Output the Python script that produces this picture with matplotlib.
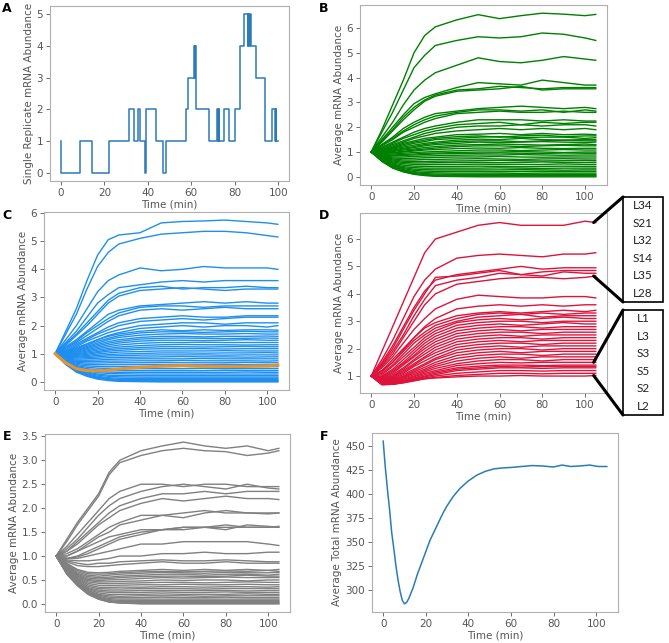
import matplotlib.pyplot as plt
from matplotlib.patches import Rectangle, ConnectionPatch
from matplotlib.ticker import MultipleLocator

# ---- data ----
# panel A: single replicate, step trace (start time, copies)
a_time = [0, 0.2, 8.8, 14.5, 22, 31.4, 33.8, 35.6, 36.4, 38.9, 39.1, 39.4, 43.7, 47.1,
          48.3, 57.7, 58.5, 61.2, 61.6, 61.9, 62.3, 68.0, 72.0, 72.3, 72.6, 72.9, 75.2,
          77.4, 80.3, 82.6, 84.5, 86.0, 86.3, 86.7, 87.0, 87.4, 90.0, 93.8, 97.2, 98.6,
          98.8, 99.2, 100]
a_count = [1, 0, 1, 0, 1, 2, 1, 2, 1, 0, 1, 2, 1, 0,
           1, 2, 3, 4, 3, 4, 2, 1, 2, 1, 2, 1, 2,
           1, 2, 4, 5, 4, 5, 4, 5, 4, 3, 1, 2, 1,
           2, 1, 1]

# common sampling times for the averaged traces (min)
T = [0, 5, 10, 15, 20, 25, 30, 40, 50, 60, 70, 80, 90, 100, 105]

# panel B: green, averaged traces
b_lines = [
    [1, 1.9, 2.9, 3.9, 5.0, 5.7, 6.05, 6.33, 6.54, 6.38, 6.5, 6.6, 6.56, 6.5, 6.55],
    [1, 1.8, 2.6, 3.5, 4.4, 4.9, 5.3, 5.5, 5.65, 5.6, 5.65, 5.8, 5.75, 5.6, 5.5],
    [1, 1.6, 2.2, 2.9, 3.5, 3.9, 4.2, 4.5, 4.8, 4.65, 4.6, 4.7, 4.85, 4.75, 4.7],
    [1, 1.5, 2.0, 2.5, 2.95, 3.2, 3.35, 3.6, 3.8, 3.75, 3.7, 3.9, 3.8, 3.7, 3.7],
    [1, 1.45, 1.9, 2.4, 2.8, 3.1, 3.3, 3.5, 3.55, 3.65, 3.6, 3.55, 3.6, 3.6, 3.6],
    [1, 1.4, 1.85, 2.3, 2.7, 3.05, 3.25, 3.45, 3.5, 3.55, 3.65, 3.5, 3.55, 3.55, 3.55],
    [1, 1.3, 1.6, 1.95, 2.2, 2.4, 2.55, 2.65, 2.75, 2.8, 2.85, 2.8, 2.75, 2.8, 2.75],
    [1, 1.3, 1.55, 1.85, 2.1, 2.3, 2.45, 2.6, 2.7, 2.7, 2.65, 2.7, 2.6, 2.7, 2.65],
    [1, 1.25, 1.5, 1.8, 2.0, 2.2, 2.35, 2.55, 2.6, 2.65, 2.6, 2.6, 2.65, 2.6, 2.6],
    [1, 1.2, 1.4, 1.6, 1.8, 1.95, 2.05, 2.2, 2.3, 2.3, 2.3, 2.25, 2.3, 2.25, 2.25],
    [1, 1.15, 1.35, 1.55, 1.7, 1.85, 1.95, 2.1, 2.15, 2.2, 2.1, 2.2, 2.15, 2.2, 2.2],
    [1, 1.15, 1.3, 1.45, 1.6, 1.75, 1.85, 2.0, 2.05, 2.05, 2.1, 2.05, 2.1, 2.1, 2.05],
    [1, 1.1, 1.25, 1.4, 1.55, 1.65, 1.75, 1.85, 1.9, 1.95, 1.9, 1.95, 1.9, 1.95, 1.9],
    [1, 1.1, 1.2, 1.35, 1.45, 1.55, 1.6, 1.7, 1.72, 1.75, 1.7, 1.75, 1.7, 1.72, 1.7],
    [1, 1.08, 1.18, 1.3, 1.4, 1.48, 1.55, 1.62, 1.65, 1.6, 1.65, 1.68, 1.62, 1.65, 1.65],
    [1, 1.05, 1.15, 1.25, 1.35, 1.42, 1.5, 1.55, 1.6, 1.62, 1.58, 1.6, 1.6, 1.55, 1.58],
    [1, 1.05, 1.12, 1.2, 1.28, 1.35, 1.4, 1.48, 1.52, 1.5, 1.55, 1.5, 1.48, 1.5, 1.5],
    [1, 1.02, 1.08, 1.15, 1.22, 1.3, 1.35, 1.42, 1.45, 1.45, 1.42, 1.45, 1.48, 1.45, 1.45],
    [1, 1.0, 1.05, 1.12, 1.18, 1.25, 1.3, 1.35, 1.4, 1.38, 1.4, 1.42, 1.4, 1.38, 1.4],
    [1, 0.98, 1.02, 1.08, 1.12, 1.18, 1.22, 1.28, 1.3, 1.32, 1.3, 1.28, 1.3, 1.32, 1.3],
    [1, 0.96, 0.98, 1.03, 1.08, 1.12, 1.16, 1.22, 1.25, 1.25, 1.22, 1.25, 1.27, 1.25, 1.25],
    [1, 0.95, 0.96, 1.0, 1.04, 1.08, 1.1, 1.14, 1.16, 1.15, 1.18, 1.15, 1.14, 1.15, 1.15],
    [1, 0.93, 0.92, 0.95, 0.98, 1.0, 1.02, 1.05, 1.08, 1.08, 1.06, 1.08, 1.1, 1.08, 1.08],
    [1, 0.9, 0.88, 0.9, 0.92, 0.95, 0.96, 0.98, 1.0, 1.0, 1.02, 1.0, 0.98, 1.0, 1.0],
    [1, 0.88, 0.85, 0.86, 0.88, 0.9, 0.92, 0.94, 0.95, 0.96, 0.95, 0.94, 0.96, 0.95, 0.95],
    [1, 0.86, 0.8, 0.8, 0.82, 0.84, 0.85, 0.87, 0.88, 0.88, 0.9, 0.88, 0.87, 0.88, 0.88],
    [1, 0.84, 0.76, 0.74, 0.75, 0.77, 0.78, 0.8, 0.8, 0.82, 0.8, 0.79, 0.8, 0.8, 0.8],
    [1, 0.82, 0.72, 0.68, 0.68, 0.7, 0.7, 0.72, 0.73, 0.72, 0.7, 0.72, 0.73, 0.72, 0.72],
    [1, 0.8, 0.68, 0.63, 0.62, 0.62, 0.63, 0.64, 0.65, 0.66, 0.65, 0.64, 0.65, 0.66, 0.65],
    [1, 0.78, 0.64, 0.58, 0.56, 0.56, 0.57, 0.58, 0.58, 0.57, 0.58, 0.6, 0.58, 0.58, 0.58],
    [1, 0.76, 0.6, 0.53, 0.5, 0.49, 0.5, 0.5, 0.51, 0.5, 0.5, 0.5, 0.52, 0.5, 0.5],
    [1, 0.74, 0.56, 0.47, 0.43, 0.42, 0.42, 0.42, 0.43, 0.42, 0.41, 0.42, 0.43, 0.42, 0.42],
    [1, 0.72, 0.52, 0.41, 0.37, 0.35, 0.35, 0.35, 0.35, 0.36, 0.35, 0.34, 0.35, 0.35, 0.35],
    [1, 0.7, 0.49, 0.37, 0.31, 0.29, 0.28, 0.28, 0.28, 0.28, 0.29, 0.28, 0.27, 0.28, 0.28],
    [1, 0.68, 0.46, 0.33, 0.26, 0.23, 0.22, 0.22, 0.22, 0.21, 0.22, 0.22, 0.22, 0.22, 0.22],
    [1, 0.67, 0.43, 0.29, 0.21, 0.17, 0.16, 0.15, 0.15, 0.15, 0.14, 0.15, 0.15, 0.15, 0.15],
    [1, 0.66, 0.41, 0.26, 0.17, 0.13, 0.11, 0.1, 0.1, 0.1, 0.1, 0.1, 0.1, 0.1, 0.1],
    [1, 0.65, 0.39, 0.23, 0.14, 0.09, 0.07, 0.06, 0.06, 0.06, 0.06, 0.06, 0.06, 0.06, 0.06],
    [1, 0.64, 0.37, 0.21, 0.12, 0.07, 0.04, 0.03, 0.03, 0.03, 0.03, 0.03, 0.03, 0.03, 0.03],
    [1, 0.62, 0.35, 0.2, 0.1, 0.05, 0.02, 0.01, 0, 0, 0, 0, 0, 0, 0],
]

# panel C: blue traces plus the orange mean
c_lines = [
    [1, 1.8, 2.6, 3.6, 4.5, 5.05, 5.22, 5.3, 5.65, 5.7, 5.72, 5.75, 5.7, 5.65, 5.6],
    [1, 1.7, 2.4, 3.3, 4.1, 4.6, 4.9, 5.1, 5.25, 5.3, 5.35, 5.35, 5.3, 5.2, 5.15],
    [1, 1.5, 2.0, 2.6, 3.2, 3.6, 3.8, 4.05, 3.95, 4.0, 4.1, 4.05, 4.05, 4.05, 4.0],
    [1, 1.4, 1.8, 2.3, 2.8, 3.1, 3.35, 3.45, 3.55, 3.6, 3.55, 3.6, 3.6, 3.6, 3.6],
    [1, 1.35, 1.7, 2.1, 2.5, 2.9, 3.15, 3.35, 3.4, 3.3, 3.35, 3.35, 3.4, 3.35, 3.35],
    [1, 1.3, 1.65, 2.0, 2.4, 2.8, 3.05, 3.25, 3.3, 3.35, 3.3, 3.25, 3.3, 3.3, 3.3],
    [1, 1.25, 1.5, 1.8, 2.1, 2.4, 2.55, 2.7, 2.75, 2.8, 2.85, 2.8, 2.85, 2.8, 2.8],
    [1, 1.2, 1.45, 1.75, 2.0, 2.25, 2.45, 2.65, 2.7, 2.7, 2.65, 2.7, 2.7, 2.7, 2.7],
    [1, 1.2, 1.4, 1.65, 1.9, 2.15, 2.35, 2.55, 2.6, 2.55, 2.6, 2.65, 2.6, 2.6, 2.6],
    [1, 1.15, 1.35, 1.55, 1.75, 1.95, 2.1, 2.25, 2.3, 2.35, 2.3, 2.3, 2.35, 2.35, 2.35],
    [1, 1.1, 1.3, 1.5, 1.7, 1.85, 2.0, 2.15, 2.2, 2.25, 2.2, 2.25, 2.3, 2.3, 2.3],
    [1, 1.1, 1.25, 1.45, 1.6, 1.75, 1.85, 2.0, 2.05, 2.1, 2.1, 2.05, 2.1, 2.1, 2.1],
    [1, 1.1, 1.2, 1.35, 1.5, 1.65, 1.75, 1.9, 1.95, 2.0, 1.95, 2.0, 2.0, 1.95, 2.0],
    [1, 1.08, 1.2, 1.35, 1.5, 1.62, 1.7, 1.8, 1.85, 1.82, 1.85, 1.83, 1.85, 1.85, 1.84],
    [1, 1.06, 1.17, 1.3, 1.44, 1.55, 1.64, 1.74, 1.78, 1.78, 1.76, 1.78, 1.8, 1.78, 1.78],
    [1, 1.05, 1.14, 1.26, 1.38, 1.5, 1.58, 1.66, 1.7, 1.72, 1.7, 1.7, 1.72, 1.7, 1.7],
    [1, 1.03, 1.11, 1.22, 1.33, 1.43, 1.5, 1.58, 1.62, 1.62, 1.6, 1.62, 1.62, 1.63, 1.62],
    [1, 1.02, 1.08, 1.18, 1.28, 1.37, 1.44, 1.52, 1.55, 1.56, 1.55, 1.54, 1.55, 1.56, 1.55],
    [1, 1.0, 1.05, 1.14, 1.23, 1.31, 1.38, 1.45, 1.48, 1.48, 1.47, 1.48, 1.5, 1.48, 1.48],
    [1, 0.98, 1.02, 1.1, 1.18, 1.25, 1.31, 1.37, 1.4, 1.4, 1.41, 1.4, 1.4, 1.4, 1.4],
    [1, 0.96, 0.99, 1.06, 1.13, 1.19, 1.24, 1.29, 1.32, 1.33, 1.32, 1.32, 1.31, 1.32, 1.32],
    [1, 0.95, 0.97, 1.02, 1.08, 1.14, 1.18, 1.22, 1.25, 1.25, 1.24, 1.25, 1.26, 1.25, 1.25],
    [1, 0.93, 0.94, 0.98, 1.04, 1.09, 1.12, 1.16, 1.18, 1.18, 1.18, 1.17, 1.18, 1.18, 1.18],
    [1, 0.91, 0.91, 0.94, 0.99, 1.03, 1.06, 1.08, 1.1, 1.1, 1.1, 1.11, 1.1, 1.1, 1.1],
    [1, 0.89, 0.88, 0.9, 0.94, 0.97, 0.99, 1.01, 1.03, 1.03, 1.02, 1.03, 1.03, 1.04, 1.03],
    [1, 0.87, 0.85, 0.86, 0.89, 0.92, 0.93, 0.95, 0.96, 0.96, 0.96, 0.95, 0.96, 0.96, 0.96],
    [1, 0.85, 0.81, 0.82, 0.84, 0.86, 0.87, 0.88, 0.89, 0.9, 0.89, 0.89, 0.88, 0.89, 0.89],
    [1, 0.83, 0.77, 0.77, 0.78, 0.8, 0.81, 0.82, 0.82, 0.82, 0.83, 0.82, 0.82, 0.82, 0.82],
    [1, 0.81, 0.73, 0.72, 0.73, 0.74, 0.74, 0.75, 0.75, 0.76, 0.75, 0.75, 0.75, 0.74, 0.75],
    [1, 0.79, 0.7, 0.67, 0.67, 0.68, 0.68, 0.68, 0.69, 0.68, 0.68, 0.68, 0.69, 0.68, 0.68],
    [1, 0.77, 0.66, 0.62, 0.61, 0.61, 0.61, 0.61, 0.62, 0.61, 0.61, 0.62, 0.61, 0.61, 0.61],
    [1, 0.75, 0.62, 0.57, 0.55, 0.54, 0.54, 0.54, 0.54, 0.55, 0.54, 0.54, 0.54, 0.54, 0.54],
    [1, 0.73, 0.58, 0.52, 0.49, 0.48, 0.47, 0.47, 0.47, 0.47, 0.48, 0.47, 0.47, 0.47, 0.47],
    [1, 0.71, 0.55, 0.47, 0.43, 0.41, 0.4, 0.4, 0.4, 0.4, 0.4, 0.41, 0.4, 0.4, 0.4],
    [1, 0.7, 0.52, 0.43, 0.38, 0.35, 0.34, 0.34, 0.34, 0.34, 0.34, 0.34, 0.35, 0.34, 0.34],
    [1, 0.69, 0.49, 0.39, 0.33, 0.3, 0.29, 0.28, 0.28, 0.28, 0.28, 0.28, 0.28, 0.28, 0.28],
    [1, 0.68, 0.47, 0.35, 0.28, 0.24, 0.23, 0.22, 0.22, 0.22, 0.22, 0.22, 0.22, 0.22, 0.22],
    [1, 0.67, 0.45, 0.32, 0.24, 0.2, 0.18, 0.17, 0.17, 0.17, 0.17, 0.17, 0.17, 0.17, 0.17],
    [1, 0.66, 0.43, 0.29, 0.2, 0.15, 0.13, 0.12, 0.12, 0.12, 0.12, 0.12, 0.12, 0.12, 0.12],
    [1, 0.65, 0.41, 0.26, 0.17, 0.12, 0.09, 0.08, 0.08, 0.08, 0.08, 0.08, 0.08, 0.08, 0.08],
    [1, 0.64, 0.39, 0.24, 0.14, 0.09, 0.06, 0.05, 0.05, 0.05, 0.05, 0.05, 0.05, 0.05, 0.05],
    [1, 0.63, 0.37, 0.22, 0.12, 0.07, 0.04, 0.02, 0.02, 0.02, 0.02, 0.02, 0.02, 0.02, 0.02],
    [1, 0.62, 0.35, 0.2, 0.1, 0.05, 0.02, 0.01, 0, 0, 0, 0, 0, 0, 0],
]
c_mean = [1, 0.68, 0.47, 0.40, 0.39, 0.42, 0.46, 0.52, 0.56, 0.58, 0.56, 0.55, 0.55, 0.57, 0.6]

# panel D: red traces
d_lines = [
    [1, 1.9, 2.8, 3.7, 4.6, 5.5, 6.0, 6.25, 6.5, 6.6, 6.5, 6.5, 6.5, 6.65, 6.6],
    [1, 1.6, 2.3, 3.1, 3.9, 4.5, 4.9, 5.3, 5.4, 5.45, 5.4, 5.35, 5.45, 5.45, 5.5],
    [1, 1.5, 2.1, 2.8, 3.5, 4.1, 4.5, 4.7, 4.8, 4.9, 5.0, 4.9, 4.95, 4.95, 4.95],
    [1, 1.45, 2.0, 2.7, 3.4, 4.0, 4.6, 4.65, 4.75, 4.85, 4.7, 4.8, 4.85, 4.85, 4.85],
    [1, 1.4, 1.9, 2.5, 3.2, 3.8, 4.3, 4.5, 4.6, 4.75, 4.7, 4.65, 4.8, 4.75, 4.75],
    [1, 1.35, 1.8, 2.4, 3.0, 3.6, 4.0, 4.35, 4.45, 4.55, 4.6, 4.6, 4.55, 4.6, 4.65],
    [1, 1.3, 1.7, 2.2, 2.7, 3.1, 3.45, 3.8, 3.95, 3.9, 3.85, 3.85, 3.9, 3.9, 3.85],
    [1, 1.2, 1.5, 1.95, 2.4, 2.8, 3.1, 3.45, 3.55, 3.6, 3.55, 3.6, 3.55, 3.6, 3.6],
    [1, 1.2, 1.6, 2.0, 2.4, 2.75, 2.95, 3.2, 3.3, 3.35, 3.3, 3.35, 3.4, 3.35, 3.4],
    [1, 1.15, 1.5, 1.9, 2.3, 2.6, 2.85, 3.1, 3.25, 3.3, 3.25, 3.3, 3.25, 3.3, 3.3],
    [1, 1.1, 1.4, 1.8, 2.2, 2.5, 2.75, 3.0, 3.15, 3.2, 3.25, 3.15, 3.2, 3.2, 3.2],
    [1, 1.05, 1.35, 1.7, 2.05, 2.4, 2.65, 2.95, 3.05, 3.1, 3.05, 3.1, 3.15, 3.1, 3.1],
    [1, 1.0, 1.25, 1.6, 1.95, 2.3, 2.55, 2.85, 2.95, 3.0, 3.0, 2.95, 3.0, 3.0, 3.0],
    [1, 0.98, 1.2, 1.5, 1.85, 2.2, 2.45, 2.75, 2.85, 2.9, 2.85, 2.9, 2.95, 2.9, 2.9],
    [1, 0.95, 1.15, 1.45, 1.75, 2.1, 2.35, 2.65, 2.75, 2.8, 2.8, 2.75, 2.8, 2.8, 2.8],
    [1, 0.93, 1.1, 1.4, 1.7, 2.0, 2.25, 2.55, 2.65, 2.7, 2.65, 2.7, 2.7, 2.7, 2.7],
    [1, 0.9, 1.05, 1.3, 1.6, 1.9, 2.15, 2.45, 2.55, 2.6, 2.6, 2.55, 2.6, 2.6, 2.6],
    [1, 0.9, 1.0, 1.25, 1.55, 1.8, 2.05, 2.35, 2.45, 2.5, 2.45, 2.5, 2.5, 2.5, 2.5],
    [1, 0.88, 0.98, 1.2, 1.45, 1.7, 1.95, 2.25, 2.35, 2.4, 2.4, 2.35, 2.4, 2.4, 2.4],
    [1, 0.86, 0.95, 1.15, 1.4, 1.65, 1.85, 2.15, 2.25, 2.3, 2.25, 2.3, 2.3, 2.3, 2.3],
    [1, 0.85, 0.92, 1.1, 1.35, 1.55, 1.75, 2.05, 2.15, 2.2, 2.2, 2.15, 2.2, 2.2, 2.2],
    [1, 0.83, 0.9, 1.05, 1.25, 1.45, 1.65, 1.95, 2.05, 2.1, 2.05, 2.1, 2.1, 2.1, 2.1],
    [1, 0.82, 0.88, 1.0, 1.2, 1.4, 1.6, 1.85, 1.95, 2.0, 2.0, 1.95, 2.0, 2.0, 2.0],
    [1, 0.8, 0.85, 0.97, 1.15, 1.32, 1.5, 1.75, 1.85, 1.9, 1.85, 1.9, 1.9, 1.9, 1.9],
    [1, 0.78, 0.83, 0.95, 1.1, 1.25, 1.42, 1.65, 1.75, 1.8, 1.8, 1.75, 1.8, 1.8, 1.8],
    [1, 0.77, 0.8, 0.92, 1.05, 1.2, 1.35, 1.55, 1.65, 1.7, 1.65, 1.7, 1.7, 1.7, 1.7],
    [1, 0.75, 0.78, 0.88, 1.0, 1.15, 1.28, 1.45, 1.55, 1.6, 1.6, 1.55, 1.6, 1.6, 1.6],
    [1, 0.74, 0.76, 0.85, 0.97, 1.1, 1.2, 1.38, 1.45, 1.5, 1.48, 1.5, 1.5, 1.5, 1.5],
    [1, 0.73, 0.74, 0.82, 0.93, 1.05, 1.15, 1.3, 1.36, 1.4, 1.4, 1.38, 1.4, 1.4, 1.4],
    [1, 0.72, 0.72, 0.8, 0.9, 1.0, 1.1, 1.25, 1.3, 1.35, 1.33, 1.35, 1.35, 1.35, 1.35],
    [1, 0.71, 0.71, 0.78, 0.88, 0.97, 1.05, 1.2, 1.25, 1.3, 1.3, 1.28, 1.3, 1.3, 1.3],
    [1, 0.7, 0.7, 0.76, 0.85, 0.93, 1.0, 1.1, 1.15, 1.2, 1.2, 1.18, 1.2, 1.2, 1.2],
    [1, 0.69, 0.7, 0.75, 0.82, 0.9, 0.95, 1.02, 1.06, 1.1, 1.1, 1.08, 1.1, 1.1, 1.1],
    [1, 0.68, 0.7, 0.78, 0.85, 0.9, 0.93, 0.97, 1.0, 1.0, 1.02, 1.0, 1.0, 1.0, 1.02],
]
upper_genes = ['L34', 'S21', 'L32', 'S14', 'L35', 'L28']
lower_genes = ['L1', 'L3', 'S3', 'S5', 'S2', 'L2']
upper_range = [6.6, 4.65]   # values the bracket lines point at
lower_range = [1.5, 1.02]

# panel E: grey traces
e_lines = [
    [1, 1.35, 1.7, 2.0, 2.3, 2.75, 3.0, 3.2, 3.3, 3.38, 3.3, 3.25, 3.3, 3.2, 3.25],
    [1, 1.3, 1.65, 1.95, 2.25, 2.7, 2.95, 3.1, 3.2, 3.25, 3.2, 3.18, 3.1, 3.15, 3.2],
    [1, 1.2, 1.45, 1.7, 1.95, 2.2, 2.35, 2.5, 2.5, 2.45, 2.5, 2.5, 2.45, 2.45, 2.45],
    [1, 1.15, 1.35, 1.6, 1.85, 2.05, 2.2, 2.35, 2.45, 2.5, 2.45, 2.4, 2.5, 2.42, 2.4],
    [1, 1.1, 1.3, 1.5, 1.7, 1.9, 2.05, 2.2, 2.3, 2.3, 2.35, 2.3, 2.35, 2.35, 2.35],
    [1, 1.1, 1.25, 1.45, 1.65, 1.8, 1.95, 2.1, 2.2, 2.15, 2.2, 2.25, 2.2, 2.2, 2.18],
    [1, 1.05, 1.15, 1.3, 1.45, 1.6, 1.7, 1.85, 1.85, 1.9, 1.95, 1.9, 1.9, 1.9, 1.9],
    [1, 1.0, 1.1, 1.25, 1.4, 1.5, 1.65, 1.75, 1.85, 1.8, 1.9, 1.95, 1.9, 1.88, 1.9],
    [1, 1.0, 1.1, 1.2, 1.3, 1.4, 1.45, 1.55, 1.55, 1.6, 1.6, 1.65, 1.6, 1.6, 1.6],
    [1, 0.95, 1.0, 1.1, 1.2, 1.3, 1.4, 1.5, 1.55, 1.55, 1.6, 1.55, 1.65, 1.62, 1.6],
    [1, 0.95, 0.98, 1.05, 1.15, 1.25, 1.35, 1.45, 1.55, 1.6, 1.6, 1.6, 1.6, 1.6, 1.62],
    [1, 0.95, 0.95, 1.0, 1.05, 1.1, 1.15, 1.25, 1.25, 1.3, 1.3, 1.3, 1.3, 1.25, 1.22],
    [1, 0.92, 0.9, 0.9, 0.92, 0.95, 1.0, 1.0, 1.05, 1.05, 1.08, 1.05, 1.05, 1.08, 1.08],
    [1, 0.9, 0.85, 0.82, 0.85, 0.85, 0.88, 0.9, 0.92, 0.9, 0.9, 0.92, 0.9, 0.88, 0.88],
    [1, 0.88, 0.8, 0.78, 0.78, 0.8, 0.82, 0.85, 0.88, 0.85, 0.85, 0.88, 0.85, 0.85, 0.85],
    [1, 0.85, 0.72, 0.66, 0.65, 0.66, 0.68, 0.7, 0.72, 0.7, 0.72, 0.7, 0.72, 0.7, 0.72],
    [1, 0.83, 0.7, 0.63, 0.62, 0.63, 0.65, 0.67, 0.68, 0.67, 0.68, 0.69, 0.68, 0.7, 0.68],
    [1, 0.81, 0.67, 0.6, 0.58, 0.6, 0.62, 0.64, 0.66, 0.65, 0.64, 0.66, 0.65, 0.65, 0.66],
    [1, 0.8, 0.64, 0.57, 0.55, 0.56, 0.58, 0.6, 0.62, 0.62, 0.6, 0.62, 0.62, 0.6, 0.62],
    [1, 0.79, 0.62, 0.54, 0.52, 0.53, 0.55, 0.57, 0.58, 0.58, 0.57, 0.58, 0.6, 0.58, 0.58],
    [1, 0.78, 0.6, 0.51, 0.49, 0.5, 0.51, 0.53, 0.55, 0.54, 0.55, 0.56, 0.55, 0.55, 0.55],
    [1, 0.77, 0.58, 0.49, 0.46, 0.46, 0.47, 0.48, 0.5, 0.49, 0.5, 0.5, 0.48, 0.5, 0.5],
    [1, 0.76, 0.56, 0.46, 0.43, 0.42, 0.43, 0.44, 0.45, 0.45, 0.44, 0.45, 0.46, 0.45, 0.45],
    [1, 0.75, 0.54, 0.43, 0.39, 0.38, 0.39, 0.4, 0.4, 0.41, 0.4, 0.4, 0.41, 0.4, 0.4],
    [1, 0.74, 0.52, 0.4, 0.35, 0.34, 0.35, 0.35, 0.36, 0.36, 0.35, 0.36, 0.36, 0.35, 0.36],
    [1, 0.73, 0.5, 0.37, 0.32, 0.31, 0.31, 0.32, 0.32, 0.32, 0.31, 0.32, 0.32, 0.32, 0.32],
    [1, 0.72, 0.48, 0.34, 0.29, 0.27, 0.27, 0.28, 0.28, 0.28, 0.28, 0.28, 0.27, 0.28, 0.28],
    [1, 0.71, 0.47, 0.32, 0.26, 0.24, 0.24, 0.24, 0.25, 0.24, 0.24, 0.25, 0.24, 0.24, 0.24],
    [1, 0.7, 0.46, 0.3, 0.23, 0.2, 0.2, 0.2, 0.21, 0.2, 0.2, 0.2, 0.21, 0.2, 0.2],
    [1, 0.69, 0.45, 0.28, 0.2, 0.17, 0.16, 0.17, 0.17, 0.17, 0.16, 0.17, 0.17, 0.17, 0.17],
    [1, 0.68, 0.44, 0.27, 0.18, 0.14, 0.13, 0.13, 0.14, 0.13, 0.13, 0.14, 0.13, 0.13, 0.13],
    [1, 0.67, 0.43, 0.25, 0.16, 0.11, 0.1, 0.1, 0.1, 0.1, 0.1, 0.1, 0.1, 0.1, 0.1],
    [1, 0.66, 0.42, 0.24, 0.14, 0.09, 0.07, 0.07, 0.07, 0.07, 0.07, 0.07, 0.07, 0.07, 0.07],
    [1, 0.65, 0.41, 0.23, 0.12, 0.07, 0.05, 0.05, 0.05, 0.05, 0.05, 0.05, 0.05, 0.05, 0.05],
    [1, 0.64, 0.4, 0.22, 0.11, 0.05, 0.03, 0.03, 0.03, 0.03, 0.03, 0.03, 0.03, 0.03, 0.03],
    [1, 0.63, 0.39, 0.21, 0.1, 0.04, 0.02, 0.01, 0.01, 0.01, 0.01, 0.01, 0.01, 0.01, 0.01],
    [1, 0.62, 0.38, 0.2, 0.1, 0.04, 0.02, 0, 0, 0, 0, 0, 0, 0, 0],
]

# panel F: total mRNA
f_time = [0, 1, 2, 3, 4, 5, 6, 7, 8, 9, 10, 11, 12, 14, 16, 18, 20, 22, 25, 28,
          30, 33, 36, 40, 44, 48, 52, 56, 60, 65, 70, 75, 80, 84, 88, 92, 97, 101, 105]
f_total = [455.5, 428, 405, 384, 360, 343, 325, 310, 298, 289, 285.5, 287, 291, 302,
           316, 328, 340, 352, 366, 380, 388, 398, 406, 414, 420, 424, 426.5, 427.5,
           428, 429, 430, 429.5, 428.5, 430.5, 429, 429.5, 430.5, 429, 429]

# ---- layout ----
W, H = 669, 643
fig = plt.figure(figsize=(W / 100, H / 100), dpi=100)
GREY = '#555555'


def add_ax(l, t, r, b):
    ax = fig.add_axes([l / W, 1 - b / H, (r - l) / W, (b - t) / H])
    for s in ax.spines.values():
        s.set_color('#b0b0b0')
        s.set_linewidth(0.8)
    ax.tick_params(colors=GREY, labelsize=7.5, length=3, width=0.6, pad=2)
    ax.set_xlabel('Time (min)', fontsize=7.5, color=GREY, labelpad=1)
    return ax


def panel_label(x, y, s):
    fig.text(x / W, 1 - y / H, s, fontsize=9, fontweight='bold', ha='center', va='center')


axA = add_ax(50, 6, 289, 181)
axB = add_ax(360, 5, 607, 185)
axC = add_ax(44, 212, 289, 390)
axD = add_ax(360, 213, 607, 393)
axE = add_ax(45, 434, 290, 612)
axF = add_ax(372, 433, 618, 612)

axA.step(a_time, a_count, where='post', color='#2b7bb9', lw=1.1)
axA.set_ylabel('Single Replicate mRNA Abundance', fontsize=7.5, color=GREY, labelpad=2)

for row in b_lines:
    axB.plot(T, row, color='green', lw=1.0)
axB.set_ylabel('Average mRNA Abundance', fontsize=7.5, color=GREY, labelpad=2)

for row in c_lines:
    axC.plot(T, row, color='#1e8fef', lw=1.0)
axC.plot(T, c_mean, color='#e8922e', lw=2.2)
axC.set_ylabel('Average mRNA Abundance', fontsize=7.5, color=GREY, labelpad=2)

for row in d_lines:
    axD.plot(T, row, color='crimson', lw=1.0)
axD.set_ylabel('Average mRNA Abundance', fontsize=7.5, color=GREY, labelpad=2)

for row in e_lines:
    axE.plot(T, row, color='grey', lw=1.0)
axE.set_ylabel('Average mRNA Abundance', fontsize=7.5, color=GREY, labelpad=2)

axF.plot(f_time, f_total, color='#2b7bb9', lw=1.1)
axF.yaxis.set_major_locator(MultipleLocator(25))
axF.set_ylabel('Average Total mRNA Abundance', fontsize=7.5, color=GREY, labelpad=2)

for ax in (axA, axB, axC, axD, axE, axF):
    ax.xaxis.set_major_locator(MultipleLocator(20))

panel_label(7, 8, 'A')
panel_label(324, 8, 'B')
panel_label(7, 215, 'C')
panel_label(324, 215, 'D')
panel_label(7, 437, 'E')
panel_label(324, 437, 'F')

# gene boxes next to panel D
boxes = [(197, 302, upper_genes, upper_range), (310, 415, lower_genes, lower_range)]
for top, bot, genes, rng in boxes:
    fig.add_artist(Rectangle((623 / W, 1 - bot / H), 40 / W, (bot - top) / H,
                             transform=fig.transFigure, fill=False, ec='black', lw=1.2))
    step = (bot - top) / len(genes)
    for i, g in enumerate(genes):
        fig.text(643 / W, 1 - (top + step * (i + 0.5)) / H, g, fontsize=8.5,
                 family='Lato', color='#222222', ha='center', va='center')
    for yy, val in zip((top, bot), rng):
        con = ConnectionPatch(xyA=(623 / W, 1 - yy / H), coordsA='figure fraction',
                              xyB=(104, val), coordsB=axD.transData,
                              color='black', lw=2.2)
        fig.add_artist(con)

fig.savefig('out.png', dpi=100)
